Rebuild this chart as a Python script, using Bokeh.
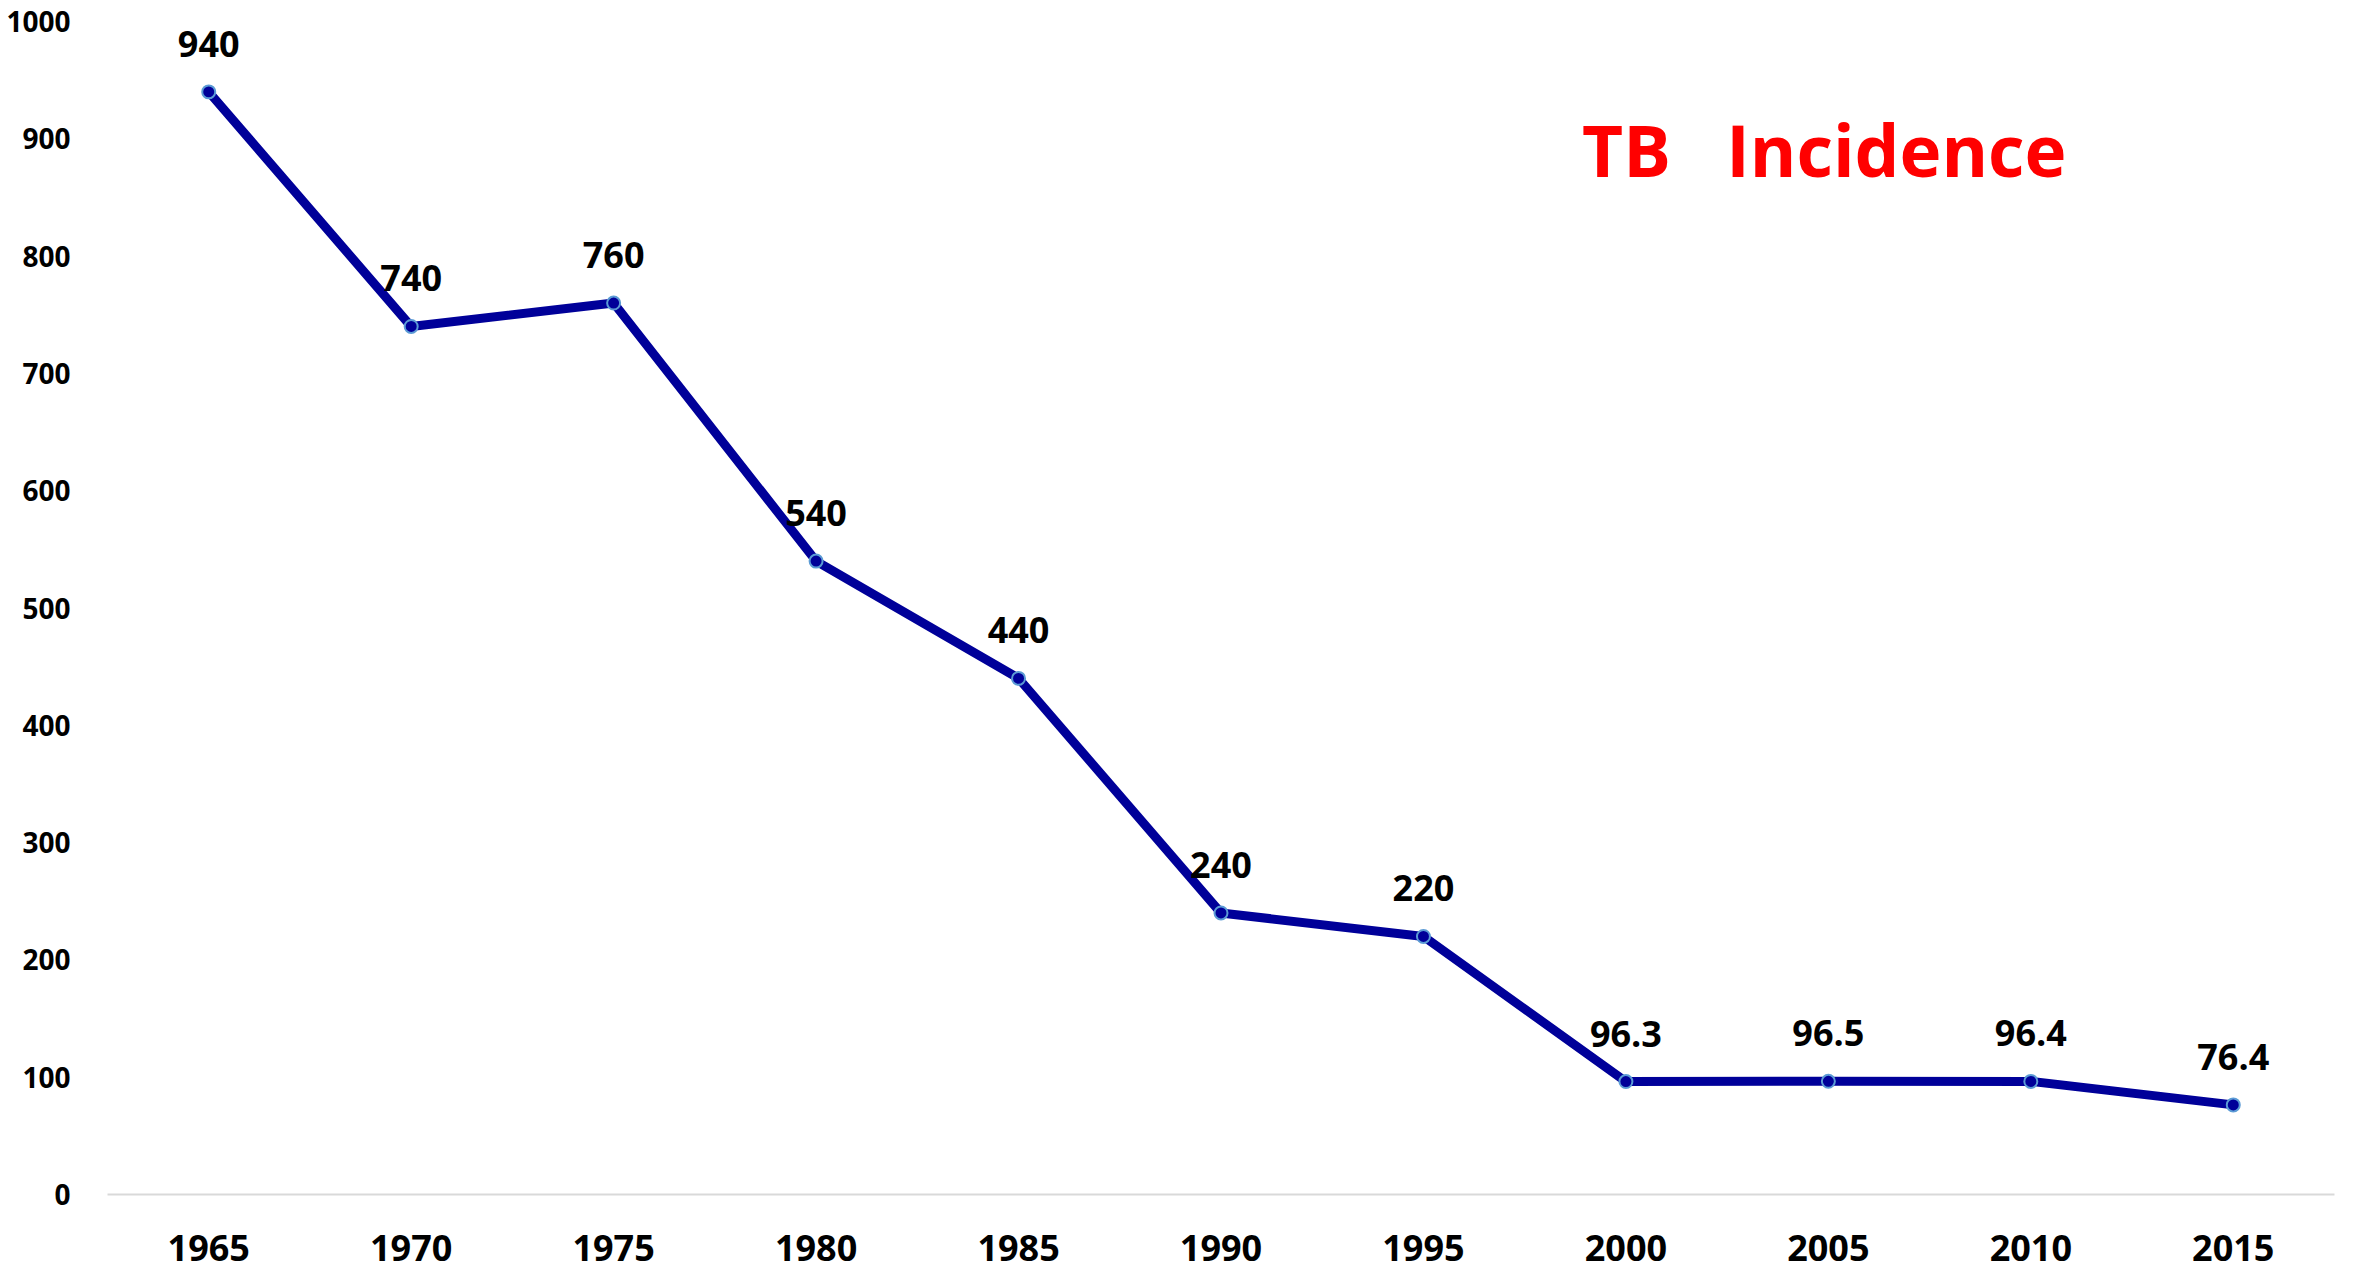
from bokeh.plotting import figure
from bokeh.models import ColumnDataSource, FixedTicker, Range1d, Label, LabelSet
from bokeh.core.properties import value
from bokeh.embed import file_html
from bokeh.resources import INLINE

years = [1965, 1970, 1975, 1980, 1985, 1990, 1995, 2000, 2005, 2010, 2015]
incidence = [940, 740, 760, 540, 440, 240, 220, 96.3, 96.5, 96.4, 76.4]
labels = ["940", "740", "760", "540", "440", "240", "220", "96.3", "96.5", "96.4", "76.4"]
y_ticks = [0, 100, 200, 300, 400, 500, 600, 700, 800, 900, 1000]
title_text = "TB\u00a0\u00a0\u00a0Incidence"

FONT = "Open Sans"

src = ColumnDataSource(dict(x=years, y=incidence, lab=labels))

p = figure(width=2338, height=1270, output_backend="svg", toolbar_location=None,
           x_range=Range1d(1962.5, 2017.5), y_range=Range1d(0, 1000),
           min_border_left=107, min_border_right=4, min_border_top=21, min_border_bottom=76)
p.outline_line_color = None
p.background_fill_color = "white"
p.border_fill_color = "white"
p.xgrid.visible = False
p.ygrid.visible = False

p.line("x", "y", source=src, line_color="#000099", line_width=9, line_join="round")
p.scatter("x", "y", source=src, size=13, fill_color="#000099", line_color="#5B9BD5", line_width=2)

ls = LabelSet(x="x", y="y", text="lab", source=src, y_offset=48, text_align="center",
              text_baseline="middle", text_font=value(FONT), text_font_style="bold",
              text_font_size="36px", text_color="#000000")
p.add_layout(ls)

p.add_layout(Label(x=2004.9, y=891, text=title_text, text_align="center", text_baseline="middle",
                   text_font=FONT, text_font_style="bold", text_font_size="71px",
                   text_color="#FF0000"))

p.xaxis.ticker = FixedTicker(ticks=years)
p.xaxis.axis_line_color = "#D9D9D9"
p.xaxis.axis_line_width = 2
p.xaxis.major_tick_line_color = None
p.xaxis.minor_tick_line_color = None
p.xaxis.major_label_text_font = FONT
p.xaxis.major_label_text_font_style = "bold"
p.xaxis.major_label_text_font_size = "36px"
p.xaxis.major_label_text_color = "#000000"
p.xaxis.major_label_text_line_height = 1.0
p.xaxis.major_label_standoff = 34

p.yaxis.ticker = FixedTicker(ticks=y_ticks)
p.yaxis.axis_line_color = None
p.yaxis.major_tick_line_color = None
p.yaxis.minor_tick_line_color = None
p.yaxis.major_label_text_font = FONT
p.yaxis.major_label_text_font_style = "bold"
p.yaxis.major_label_text_font_size = "28px"
p.yaxis.major_label_text_color = "#000000"
p.yaxis.major_label_standoff = 31

open("out.html", "w").write(file_html(p, INLINE))
